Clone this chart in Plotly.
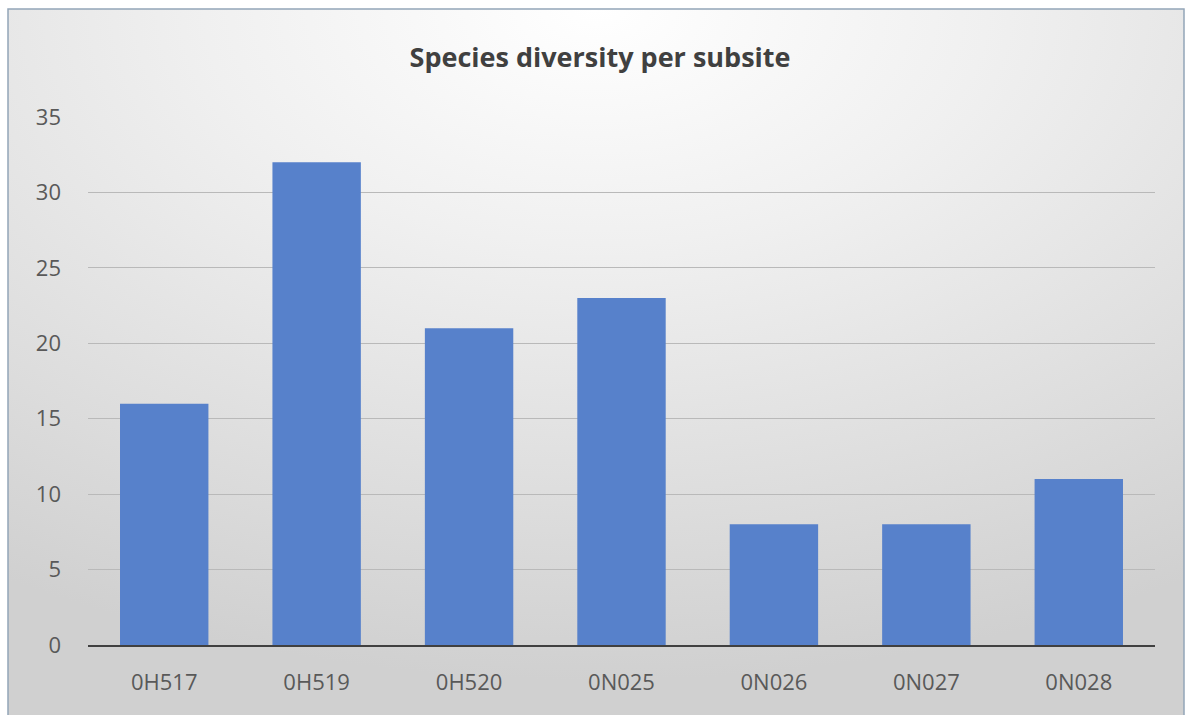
import base64
import plotly.graph_objects as go

# Species counts per subsite
subsites = ["0H517", "0H519", "0H520", "0N025", "0N026", "0N027", "0N028"]
species_counts = [16, 32, 21, 23, 8, 8, 11]
y_ticks = [0, 5, 10, 15, 20, 25, 30, 35]

W, H = 1187, 715
ML, MR, MT, MB = 88, 32, 117, 70
plot_w = W - ML - MR
plot_h = H - MT - MB


def px_to_paper_x(px):
    return (px - ML) / plot_w


def px_to_paper_y(py):
    return (H - MB - py) / plot_h


# Radial background gradient for the chart frame
svg = (
    '<svg xmlns="http://www.w3.org/2000/svg" width="1177" height="706" '
    'preserveAspectRatio="none" viewBox="0 0 1177 706">'
    '<defs><radialGradient id="g" cx="50%" cy="0%" r="95%" fx="50%" fy="0%">'
    '<stop offset="0" stop-color="#ffffff"/>'
    '<stop offset="0.35" stop-color="#f0f0f0"/>'
    '<stop offset="1" stop-color="#d0d0d0"/>'
    '</radialGradient></defs>'
    '<rect width="1177" height="706" fill="url(#g)"/></svg>'
)
bg_src = "data:image/svg+xml;base64," + base64.b64encode(svg.encode()).decode()

frame_x0, frame_x1 = 8, 1184
frame_y0, frame_y1 = 9, 716

fig = go.Figure(
    go.Bar(
        x=subsites,
        y=species_counts,
        marker=dict(color="#5781cb", line=dict(width=0)),
        hoverinfo="x+y",
    )
)

fig.update_layout(
    width=W,
    height=H,
    margin=dict(l=ML, r=MR, t=MT, b=MB, autoexpand=False),
    paper_bgcolor="white",
    plot_bgcolor="rgba(0,0,0,0)",
    bargap=0.42,
    showlegend=False,
    font=dict(family="Open Sans, sans-serif", color="#595959"),
    title=dict(
        text="<b>Species diversity per subsite</b>",
        x=px_to_paper_x(600),
        xanchor="center",
        xref="paper",
        y=1 - 58 / H,
        yanchor="middle",
        font=dict(size=27, color="#404040", family="Open Sans, sans-serif"),
    ),
    xaxis=dict(
        showgrid=False,
        showline=True,
        linecolor="#404040",
        linewidth=2,
        ticks="",
        tickfont=dict(size=22, color="#595959"),
        ticklabelstandoff=17,
    ),
    yaxis=dict(
        range=[0, 35],
        tickvals=y_ticks,
        showgrid=True,
        gridcolor="#b9b9b9",
        gridwidth=1,
        zeroline=False,
        showline=False,
        ticks="",
        tickfont=dict(size=22, color="#595959"),
        ticklabelstandoff=26,
    ),
    images=[
        dict(
            source=bg_src,
            xref="paper",
            yref="paper",
            x=px_to_paper_x(frame_x0),
            y=px_to_paper_y(frame_y0),
            sizex=px_to_paper_x(frame_x1) - px_to_paper_x(frame_x0),
            sizey=px_to_paper_y(frame_y0) - px_to_paper_y(frame_y1),
            xanchor="left",
            yanchor="top",
            sizing="stretch",
            layer="below",
        )
    ],
    shapes=[
        dict(
            type="rect",
            xref="paper",
            yref="paper",
            x0=px_to_paper_x(frame_x0),
            x1=px_to_paper_x(frame_x1),
            y0=px_to_paper_y(frame_y1),
            y1=px_to_paper_y(frame_y0),
            line=dict(color="#93a5b8", width=1.5),
            fillcolor="rgba(0,0,0,0)",
            layer="above",
        )
    ],
)

fig.write_html("out.html")
